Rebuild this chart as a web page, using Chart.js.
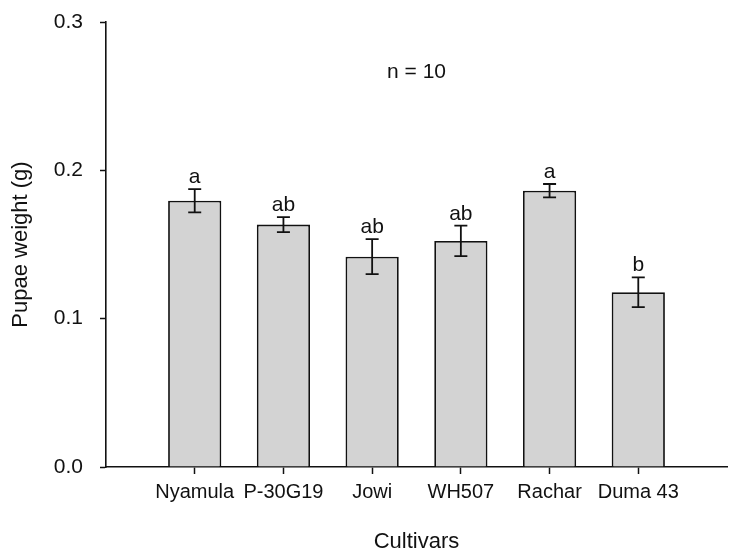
<!DOCTYPE html>
<html>
<head>
<meta charset="utf-8">
<script src="https://cdn.jsdelivr.net/npm/chart.js@4/dist/chart.umd.min.js"></script>
<style>
  html, body { margin: 0; padding: 0; background: #fff; }
  #wrap { width: 740px; height: 559px; }
</style>
</head>
<body>
<div id="wrap"><canvas id="myChart"></canvas></div>
<script>
// Labels
let cultivars = ['Nyamula', 'P-30G19', 'Jowi', 'WH507', 'Rachar', 'Duma 43'];

// Datas (mean pupae weight, standard error, significance letters)
let means   = [0.1795, 0.1634, 0.1418, 0.1524, 0.1863, 0.1178];
let errors  = [0.0078, 0.0050, 0.0118, 0.0103, 0.0045, 0.0100];
let letters = ['a', 'ab', 'ab', 'ab', 'a', 'b'];

let yTicks = [0.0, 0.1, 0.2, 0.3];

// empty slot on each side so bars sit at 1..6 on a 0..7 axis
let labels = [''].concat(cultivars, ['']);
let barData = [null].concat(means, [null]);

const FONT = 'Liberation Sans, Arial, sans-serif';

let errorBars = {
    id: 'errorBars',
    afterDatasetsDraw(chart) {
        let ctx = chart.ctx;
        let y = chart.scales.y;
        let meta = chart.getDatasetMeta(0);
        ctx.save();
        ctx.strokeStyle = '#111';
        ctx.lineWidth = 1.8;
        ctx.fillStyle = '#111';
        ctx.font = '21px ' + FONT;
        ctx.textAlign = 'center';
        ctx.textBaseline = 'alphabetic';
        means.forEach((m, i) => {
            let bar = meta.data[i + 1];
            let x = bar.x;
            let yHi = y.getPixelForValue(m + errors[i]);
            let yLo = y.getPixelForValue(m - errors[i]);
            ctx.beginPath();
            ctx.moveTo(x, yHi); ctx.lineTo(x, yLo);
            ctx.moveTo(x - 6.5, yHi); ctx.lineTo(x + 6.5, yHi);
            ctx.moveTo(x - 6.5, yLo); ctx.lineTo(x + 6.5, yLo);
            ctx.stroke();
            ctx.fillText(letters[i], x, yHi - 6);
        });
        // sample size note
        let area = chart.chartArea;
        ctx.font = '21px ' + FONT;
        ctx.textBaseline = 'middle';
        ctx.fillText('n = 10', (area.left + area.right) / 2, 72);
        ctx.restore();
    }
};

let hideEnds = (c) => (c.index === 0 || c.index === labels.length - 1) ? 'rgba(0,0,0,0)' : '#111';

let ctx = document.getElementById('myChart').getContext('2d');
let myChart = new Chart(ctx, {
    type: 'bar',
    data: {
        labels: labels,
        datasets: [{
            data: barData,
            backgroundColor: '#d3d3d3',
            borderColor: '#111',
            borderWidth: 1.8,
            barPercentage: 1,
            categoryPercentage: 0.6
        }]
    },
    options: {
        responsive: true,
        maintainAspectRatio: false,
        animation: false,
        devicePixelRatio: 1,
        layout: { padding: { top: 22, right: 13, left: 0, bottom: 0 } },
        plugins: {
            legend: { display: false },
            tooltip: { enabled: false }
        },
        scales: {
            x: {
                type: 'category',
                offset: false,
                grid: { offset: false, drawOnChartArea: false, drawTicks: true, tickLength: 7, color: hideEnds, tickColor: hideEnds, tickWidth: 1.5 },
                border: { display: true, color: '#111', width: 1.6 },
                ticks: { color: '#111', font: { family: FONT, size: 20 }, padding: 6, maxRotation: 0, autoSkip: false },
                title: { display: true, text: 'Cultivars', color: '#111', font: { family: FONT, size: 22 }, padding: { top: 0, bottom: 4 } },
                afterFit(scale) { scale.height = 92; scale.paddingLeft = 0; scale.paddingRight = 0; }
            },
            y: {
                min: 0,
                max: 0.3,
                afterBuildTicks(scale) { scale.ticks = yTicks.map(v => ({ value: v })); },
                grid: { drawOnChartArea: false, drawTicks: true, tickLength: 6, color: '#111', tickWidth: 1.5 },
                border: { display: true, color: '#111', width: 1.6 },
                ticks: { color: '#111', font: { family: FONT, size: 21 }, padding: 17, callback: v => v.toFixed(1) },
                title: { display: true, text: 'Pupae weight (g)', color: '#111', font: { family: FONT, size: 22 }, padding: { top: 8, bottom: 0 } },
                afterFit(scale) { scale.width = 106; scale.paddingTop = 0; scale.paddingBottom = 0; }
            }
        }
    },
    plugins: [errorBars]
});
</script>
</body>
</html>
